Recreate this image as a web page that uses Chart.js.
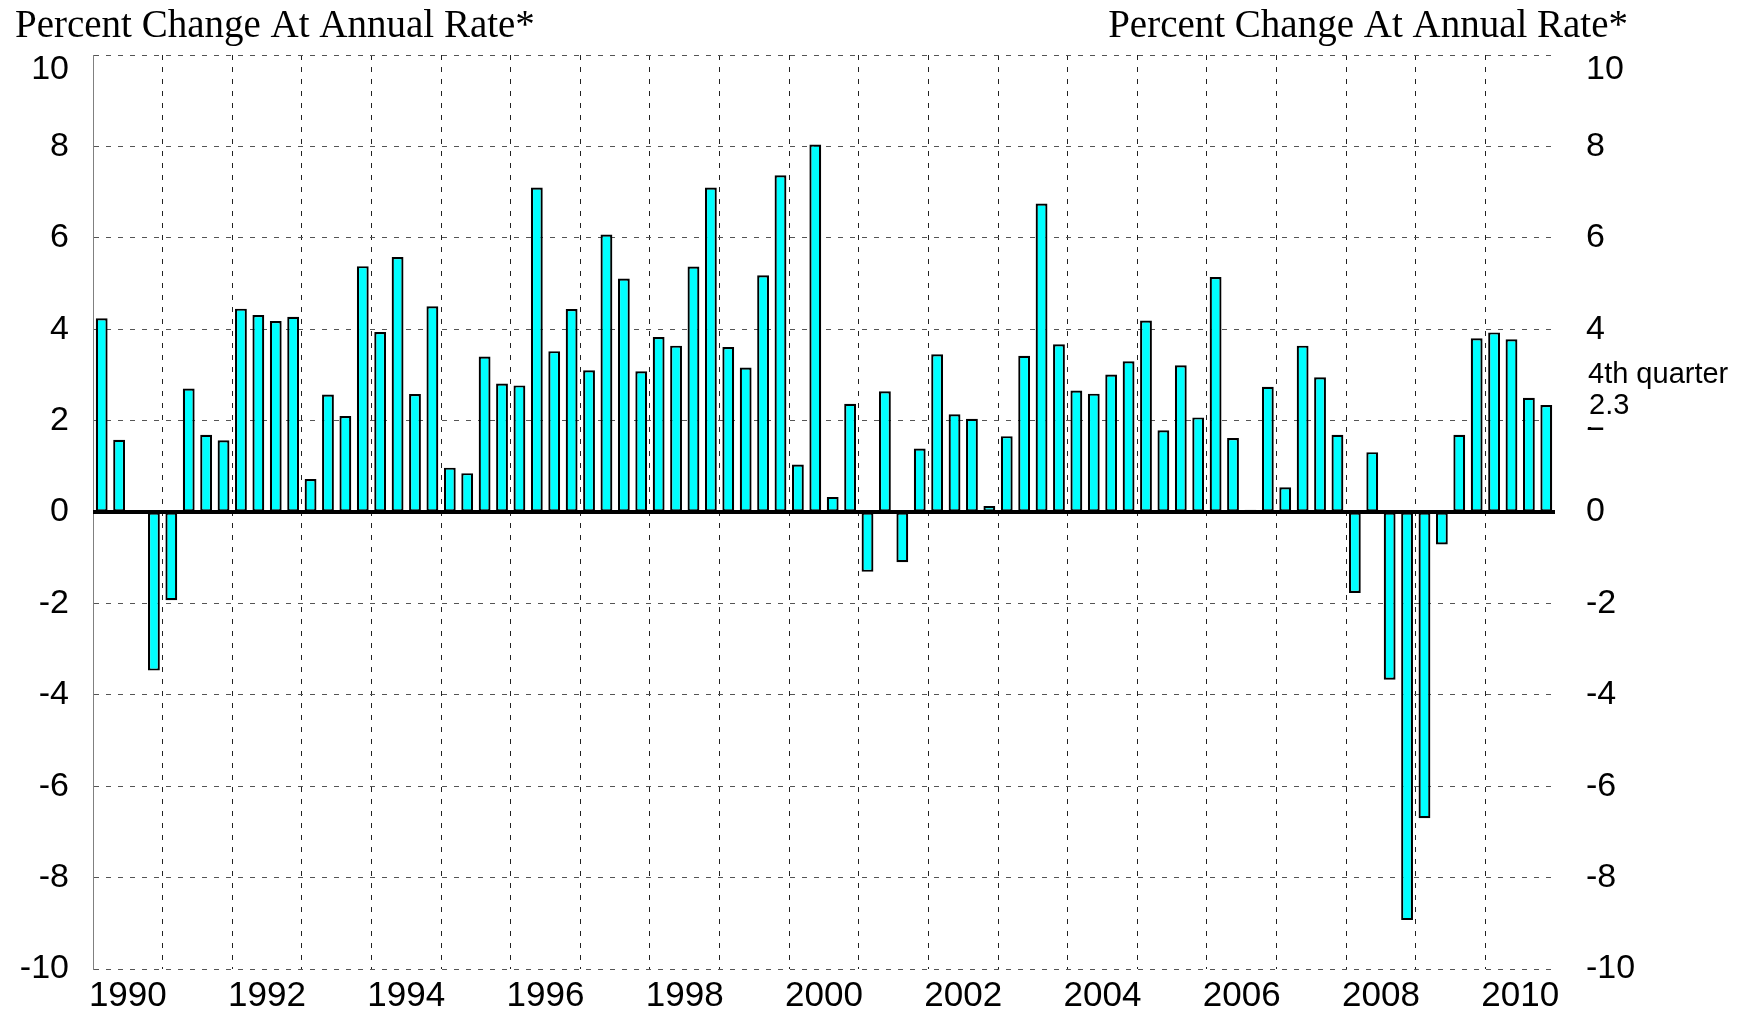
<!DOCTYPE html>
<html>
<head>
<meta charset="utf-8">
<script src="https://cdn.jsdelivr.net/npm/chart.js@4/dist/chart.umd.min.js"></script>
<style>
html,body{margin:0;padding:0;background:#ffffff;overflow:hidden;}
#wrap{width:1754px;height:1015px;position:relative;}
canvas{display:block;}
</style>
</head>
<body>
<div id="wrap"><canvas id="c" width="1754" height="1015"></canvas></div>
<script>
// ---- data ----
const years = [1990,1991,1992,1993,1994,1995,1996,1997,1998,1999,2000,2001,2002,2003,2004,2005,2006,2007,2008,2009,2010];
const quarterNames = ['Q1','Q2','Q3','Q4'];
const tickYears = ['1990','1992','1994','1996','1998','2000','2002','2004','2006','2008','2010'];
const gdpGrowth = [
  4.24, 1.58, 0.00, -3.47,   // 1990
 -1.93, 2.70, 1.69, 1.57,    // 1991
  4.45, 4.31, 4.18, 4.27,    // 1992
  0.72, 2.57, 2.10, 5.38,    // 1993
  3.94, 5.58, 2.58, 4.50,    // 1994
  0.97, 0.85, 3.40, 2.81,    // 1995
  2.77, 7.10, 3.52, 4.44,    // 1996
  3.10, 6.07, 5.11, 3.08,    // 1997
  3.83, 3.64, 5.37, 7.10,    // 1998
  3.61, 3.16, 5.18, 7.37,    // 1999
  1.04, 8.04, 0.33, 2.37,    // 2000
 -1.31, 2.64, -1.10, 1.39,   // 2001
  3.45, 2.14, 2.04, 0.13,    // 2002
  1.66, 3.42, 6.75, 3.67,    // 2003
  2.66, 2.59, 3.01, 3.30,    // 2004
  4.19, 1.79, 3.21, 2.07,    // 2005
  5.14, 1.62, 0.05, 2.74,    // 2006
  0.54, 3.64, 2.95, 1.69,    // 2007
 -1.77, 1.31, -3.67, -8.93,  // 2008
 -6.70, -0.71, 1.69, 3.80,   // 2009
  3.93, 3.78, 2.50, 2.34     // 2010
];
const yMin = -10, yMax = 10, yStep = 2;
const titleText = 'Percent Change At Annual Rate*';
const noteLines = ['4th quarter', '2.3'];

// category labels built from the year list
const quarters = [];
years.forEach(y => quarterNames.forEach(q => quarters.push(y + ' ' + q)));

const SANS = '"Liberation Sans", Arial, sans-serif';
const SERIF = '"Liberation Serif", "Times New Roman", serif';

const overlay = {
  id: 'overlay',
  afterDraw(chart) {
    const ctx = chart.ctx;
    ctx.save();
    ctx.fillStyle = '#fff';
    ctx.fillRect(0, 45, 10, 930);
    ctx.fillStyle = '#000';
    ctx.font = '39px ' + SERIF;
    ctx.textBaseline = 'alphabetic';
    ctx.textAlign = 'left';
    ctx.fillText(titleText, 15, 37);
    ctx.textAlign = 'right';
    ctx.fillText(titleText, 1628, 37);
    // note box on the right side
    ctx.fillStyle = '#fff';
    ctx.fillRect(1570, 352, 180, 75);
    ctx.fillStyle = '#000';
    ctx.textAlign = 'left';
    ctx.font = '29px ' + SANS;
    ctx.fillText(noteLines[0], 1588, 383);
    ctx.fillText(noteLines[1], 1589, 414);
    ctx.restore();
  }
};

const isZero = c => c.tick && c.tick.value === 0;
const tickFont = c => ({ family: SANS, size: 34, lineHeight: (c.tick && c.tick.value === yMax) ? 0.44 : 0.8 });
const tickText = v => v === yMax ? ['', '', String(v)] : String(v);

new Chart(document.getElementById('c'), {
  type: 'bar',
  data: {
    labels: quarters,
    datasets: [{
      data: gdpGrowth,
      backgroundColor: '#00FFFF',
      borderColor: '#000000',
      borderWidth: 2.2,
      borderSkipped: false,
      barPercentage: 0.68,
      categoryPercentage: 1.0
    }]
  },
  options: {
    responsive: false,
    animation: false,
    events: [],
    layout: { padding: { top: 55, left: 0, right: 0, bottom: 0 } },
    plugins: { legend: { display: false }, tooltip: { enabled: false }, title: { display: false } },
    scales: {
      x: {
        type: 'category',
        offset: true,
        afterFit: s => { s.height = 46; },
        grid: {
          offset: true,
          drawTicks: false,
          color: c => (c.index % 4 === 0 && c.index > 0 && c.index < quarters.length) ? '#222' : 'rgba(0,0,0,0)',
          lineWidth: 1
        },
        border: { display: false, dash: [5, 7] },
        ticks: {
          autoSkip: false,
          maxRotation: 0,
          minRotation: 0,
          padding: 6,
          labelOffset: 8.7,
          color: '#000',
          font: { family: SANS, size: 35 },
          callback: (v, i) => (i % 8 === 1) ? tickYears[(i - 1) / 8] : ''
        }
      },
      y: {
        position: 'left',
        min: yMin, max: yMax,
        afterFit: s => { s.width = 93; },
        grid: {
          drawTicks: false,
          color: c => isZero(c) ? 'rgba(0,0,0,0)' : '#555',
          lineWidth: 1
        },
        border: { display: true, color: '#808080', width: 1, dash: c => [5, 7] },
        ticks: {
          stepSize: yStep,
          padding: 24,
          color: '#000',
          font: tickFont,
          callback: tickText
        }
      },
      y2: {
        position: 'right',
        min: yMin, max: yMax,
        afterFit: s => { s.width = 199; },
        grid: {
          z: 1,
          drawTicks: false,
          color: c => isZero(c) ? '#000' : 'rgba(0,0,0,0)',
          lineWidth: c => isZero(c) ? 4 : 1
        },
        border: { display: true, color: '#808080', width: 1, dash: c => [] },
        ticks: {
          stepSize: yStep,
          padding: 31,
          color: '#000',
          font: tickFont,
          callback: tickText
        }
      }
    }
  },
  plugins: [overlay]
});
</script>
</body>
</html>
